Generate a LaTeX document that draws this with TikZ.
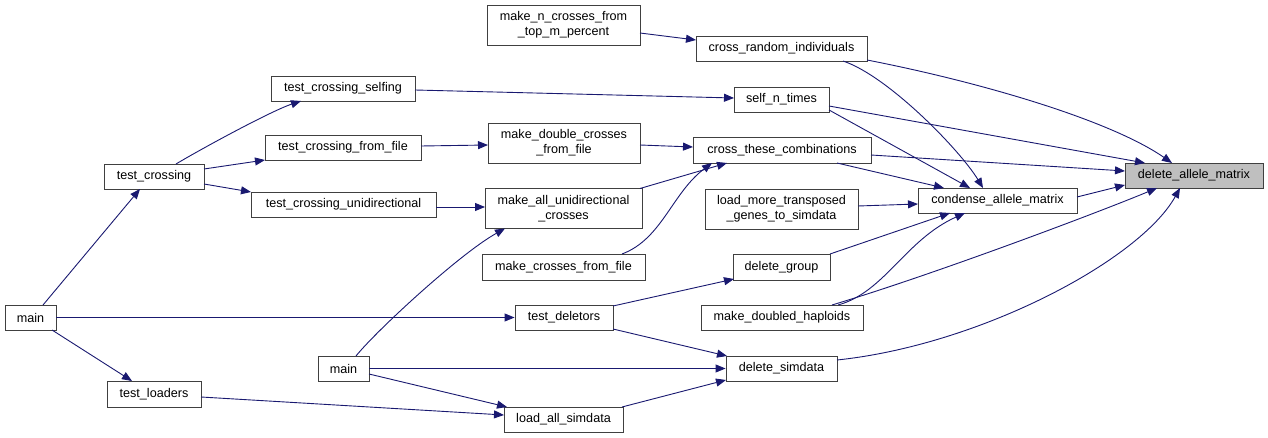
\documentclass[tikz,border=0pt]{standalone}
\usepackage{fontspec}
\setmainfont{Liberation Sans}
\usetikzlibrary{arrows.meta}
\definecolor{edgeblue}{RGB}{25,25,112}
\definecolor{focusgray}{RGB}{191,191,191}
\begin{document}
\begin{tikzpicture}[x=1pt,y=-1pt,
  fn/.style={draw=black!75, line width=0.9pt, fill=white, inner sep=0pt,
    align=center, font=\fontsize{12.6}{15}\selectfont},
  focus/.style={fn, fill=focusgray},
  call/.style={draw=edgeblue, line width=0.9pt,
    -{Triangle[length=10pt,width=8pt]}}]
\useasboundingbox (0,0) rectangle (1268,438);

% functions
\node[fn, minimum width=153, minimum height=40] (mn) at (563.5,25) {make\_n\_crosses\_from\\\_top\_m\_percent};
\node[fn, minimum width=171, minimum height=25] (cri) at (781.5,48.5) {cross\_random\_individuals};
\node[fn, minimum width=144, minimum height=25] (tcs) at (343,88.5) {test\_crossing\_selfing};
\node[fn, minimum width=95, minimum height=25] (snt) at (781.5,99.5) {self\_n\_times};
\node[fn, minimum width=156, minimum height=25] (tcff) at (343,147.5) {test\_crossing\_from\_file};
\node[fn, minimum width=152, minimum height=40] (mdc) at (564,143) {make\_double\_crosses\\\_from\_file};
\node[fn, minimum width=178, minimum height=26] (ctc) at (782,150) {cross\_these\_combinations};
\node[fn, minimum width=100, minimum height=25] (tc) at (154,176.5) {test\_crossing};
\node[fn, minimum width=185, minimum height=25] (tcu) at (343.5,204.5) {test\_crossing\_unidirectional};
\node[fn, minimum width=157, minimum height=40] (mau) at (563.5,208.5) {make\_all\_unidirectional\\\_crosses};
\node[fn, minimum width=153, minimum height=40] (lmt) at (781.5,209) {load\_more\_transposed\\\_genes\_to\_simdata};
\node[fn, minimum width=159, minimum height=25] (cam) at (997.5,200.5) {condense\_allele\_matrix};
\node[focus, minimum width=138, minimum height=25] (dam) at (1194,175.5) {delete\_allele\_matrix};
\node[fn, minimum width=163, minimum height=26] (mcf) at (563.5,267) {make\_crosses\_from\_file};
\node[fn, minimum width=97, minimum height=26] (dg) at (781.5,267) {delete\_group};
\node[fn, minimum width=51, minimum height=25] (mainA) at (30.5,317.5) {main};
\node[fn, minimum width=98, minimum height=25] (td) at (564,317.5) {test\_deletors};
\node[fn, minimum width=162, minimum height=25] (mdh) at (782,317.5) {make\_doubled\_haploids};
\node[fn, minimum width=51, minimum height=25] (mainB) at (343.5,368.5) {main};
\node[fn, minimum width=111, minimum height=25] (ds) at (781.5,368.5) {delete\_simdata};
\node[fn, minimum width=94, minimum height=26] (tl) at (154,394) {test\_loaders};
\node[fn, minimum width=119, minimum height=25] (las) at (563.5,419.5) {load\_all\_simdata};

% calls
\draw[call] ([shift={(76.5,8)}]mn.center) -- ([shift={(-85.5,-8.5)}]cri.center);
\draw[call] ([shift={(85.5,11.5)}]cri.center) .. controls +(113,22) and +(-62,-43) .. ([shift={(-22,-12.5)}]dam.center);
\draw[call] ([shift={(61.5,12.5)}]cri.center) .. controls +(45,15) and +(-23,-38) .. ([shift={(-14.5,-12.5)}]cam.center);
\draw[call] ([shift={(72,1.5)}]tcs.center) -- ([shift={(-47.5,-1.5)}]snt.center);
\draw[call] ([shift={(47.5,6.5)}]snt.center) -- ([shift={(-49,-12.5)}]dam.center);
\draw[call] ([shift={(47.5,10.5)}]snt.center) -- ([shift={(-27.5,-12.5)}]cam.center);
\draw[call] ([shift={(22,-12.5)}]tc.center) .. controls +(25,-15) and +(-30,10) .. ([shift={(-42,12.5)}]tcs.center);
\draw[call] ([shift={(50,-7.5)}]tc.center) -- ([shift={(-78,12.5)}]tcff.center);
\draw[call] ([shift={(50,7.5)}]tc.center) -- ([shift={(-92.5,-12.5)}]tcu.center);
\draw[call] ([shift={(78,-1.5)}]tcff.center) -- ([shift={(-76,2)}]mdc.center);
\draw[call] ([shift={(76,2)}]mdc.center) -- ([shift={(-89,-3)}]ctc.center);
\draw[call] ([shift={(89,5)}]ctc.center) -- ([shift={(-69,-4.5)}]dam.center);
\draw[call] ([shift={(55,13)}]ctc.center) -- ([shift={(-53.5,-12.5)}]cam.center);
\draw[call] ([shift={(92.5,2.5)}]tcu.center) -- ([shift={(-78.5,-1.5)}]mau.center);
\draw[call] ([shift={(76.5,-20)}]mau.center) -- ([shift={(-55,13)}]ctc.center);
\draw[call] ([shift={(58.5,-13)}]mcf.center) .. controls +(40,-15) and +(-40,30) .. ([shift={(-70,13)}]ctc.center);
\draw[call] ([shift={(76.5,-3)}]lmt.center) -- ([shift={(-79.5,3.5)}]cam.center);
\draw[call] ([shift={(79.5,-3.5)}]cam.center) -- ([shift={(-69,9.5)}]dam.center);
\draw[call] ([shift={(48.5,-13)}]dg.center) -- ([shift={(-47.5,12.5)}]cam.center);
\draw[call] ([shift={(56,-12.5)}]mdh.center) .. controls +(47,-13) and +(-60,27) .. ([shift={(-32.5,12.5)}]cam.center);
\draw[call] ([shift={(50,-12.5)}]mdh.center) .. controls +(100,-30) and +(-60,25) .. ([shift={(-37,12.5)}]dam.center);
\draw[call] ([shift={(55.5,-8.5)}]ds.center) .. controls +(143,-15) and +(-40,72) .. ([shift={(-14,12.5)}]dam.center);
\draw[call] ([shift={(12.5,-12.5)}]mainA.center) -- ([shift={(-14,12.5)}]tc.center);
\draw[call] (mainA.east) -- (td.west);
\draw[call] ([shift={(21.5,12.5)}]mainA.center) -- ([shift={(-22,-13)}]tl.center);
\draw[call] ([shift={(12.5,-12.5)}]mainB.center) .. controls +(20,-25) and +(-45,25) .. ([shift={(-58.5,20)}]mau.center);
\draw[call] (mainB.east) -- (ds.west);
\draw[call] ([shift={(25.5,5.5)}]mainB.center) -- ([shift={(-56.5,-12.5)}]las.center);
\draw[call] ([shift={(47,3)}]tl.center) -- ([shift={(-59.5,-4.5)}]las.center);
\draw[call] ([shift={(49,-11.5)}]td.center) -- ([shift={(-47.5,12)}]dg.center);
\draw[call] ([shift={(49,11.5)}]td.center) -- ([shift={(-54.5,-12.5)}]ds.center);
\draw[call] ([shift={(58.5,-12.5)}]las.center) -- ([shift={(-55.5,11.5)}]ds.center);
\end{tikzpicture}
\end{document}
